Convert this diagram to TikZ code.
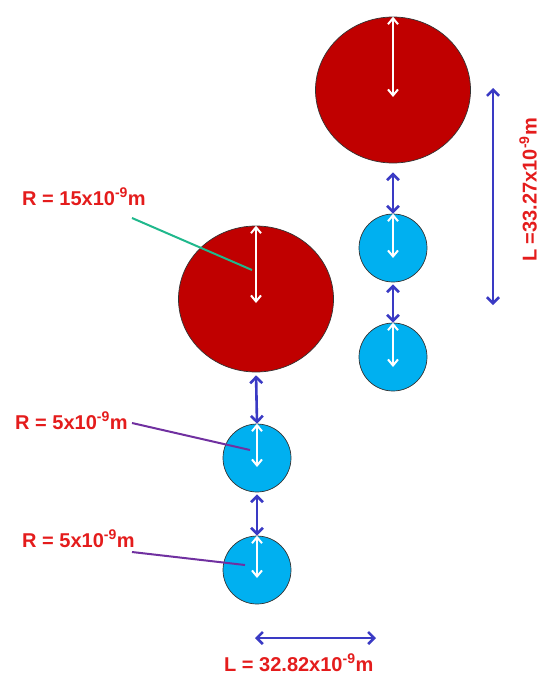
\documentclass[tikz,border=0pt]{standalone}
\usepackage{fontspec}
\setmainfont{Liberation Sans}
\usetikzlibrary{shapes.geometric,arrows.meta}
\definecolor{ballred}{RGB}{192,0,0}
\definecolor{ballblue}{RGB}{0,176,240}
\definecolor{arrblue}{RGB}{58,58,196}
\definecolor{txtred}{RGB}{228,28,28}
\definecolor{leadgreen}{RGB}{32,184,140}
\definecolor{leadpurple}{RGB}{112,48,160}
\tikzset{
  redball/.style={ellipse,draw=black!80,line width=0.7pt,fill=ballred,minimum width=155pt,minimum height=146pt,inner sep=0pt},
  blueball/.style={circle,draw=black!80,line width=0.7pt,fill=ballblue,minimum size=68pt,inner sep=0pt},
  bluearr/.style={draw=arrblue,line width=2.6pt,{Straight Barb[length=6pt,width=12pt,line width=2.6pt]}-{Straight Barb[length=6pt,width=12pt,line width=2.6pt]}},
  whitearr/.style={draw=white,line width=2pt,{Straight Barb[length=6pt,width=10pt,line width=2pt]}-{Straight Barb[length=6pt,width=10pt,line width=2pt]}},
  lab/.style={font=\bfseries\fontsize{20}{24}\selectfont,text=txtred,inner sep=0pt},
  leader/.style={line width=2pt}
}
\begin{document}
\begin{tikzpicture}[x=1pt,y=-1pt]
\useasboundingbox (0,0) rectangle (540,675);
% right column
\node[redball] (R1) at (393,90) {};
\node[blueball] (B1) at (393,248) {};
\node[blueball] (B2) at (393,357) {};
% left column
\node[redball] (R2) at (256,299) {};
\node[blueball] (B3) at (257,458) {};
\node[blueball] (B4) at (257,570) {};
% blue arrows between balls
\draw[bluearr,shorten <=9pt] (R1.south) -- (B1.north);
\draw[bluearr,shorten <=2pt] (B1.south) -- (B2.north);
\draw[bluearr,shorten <=3pt] (R2.south) -- (B3.north);
\draw[bluearr,shorten <=2pt] (B3.south) -- (B4.north);
% white radius arrows
\draw[whitearr] (R1.north) -- ([yshift=-7pt]R1.center);
\draw[whitearr] (R2.north) -- ([yshift=-4pt]R2.center);
\draw[whitearr] (B1.north) -- ([yshift=-10pt]B1.center);
\draw[whitearr] (B2.north) -- ([yshift=-10pt]B2.center);
\draw[whitearr] (B3.north) -- ([yshift=-9pt]B3.center);
\draw[whitearr] (B4.north) -- ([yshift=-8pt]B4.center);
% length arrows
\coordinate (v1) at (493,88);
\coordinate (v2) at (493,305);
\draw[bluearr] (v1) -- (v2);
\coordinate (h1) at (255,638);
\coordinate (h2) at (376,638);
\draw[bluearr] (h1) -- (h2);
% labels
\node[lab,anchor=south,rotate=90] (LV) at (537,190) {L =33.27x10\textsuperscript{-9}m};
\node[lab,anchor=base west] (LH) at (224,671) {L = 32.82x10\textsuperscript{-9}m};
\node[lab,anchor=base west] (T1) at (22,205) {R = 15x10\textsuperscript{-9}m};
\node[lab,anchor=base west] (T2) at (15,429) {R = 5x10\textsuperscript{-9}m};
\node[lab,anchor=base west] (T3) at (22,547) {R = 5x10\textsuperscript{-9}m};
% leader lines
\coordinate (g1) at (132,218);
\coordinate (g2) at (252,270);
\draw[leader,leadgreen] (g1) -- (g2);
\coordinate (p1) at (132,423);
\coordinate (p2) at (250,450);
\draw[leader,leadpurple] (p1) -- (p2);
\coordinate (p3) at (132,552);
\coordinate (p4) at (245,565);
\draw[leader,leadpurple] (p3) -- (p4);
\end{tikzpicture}
\end{document}
